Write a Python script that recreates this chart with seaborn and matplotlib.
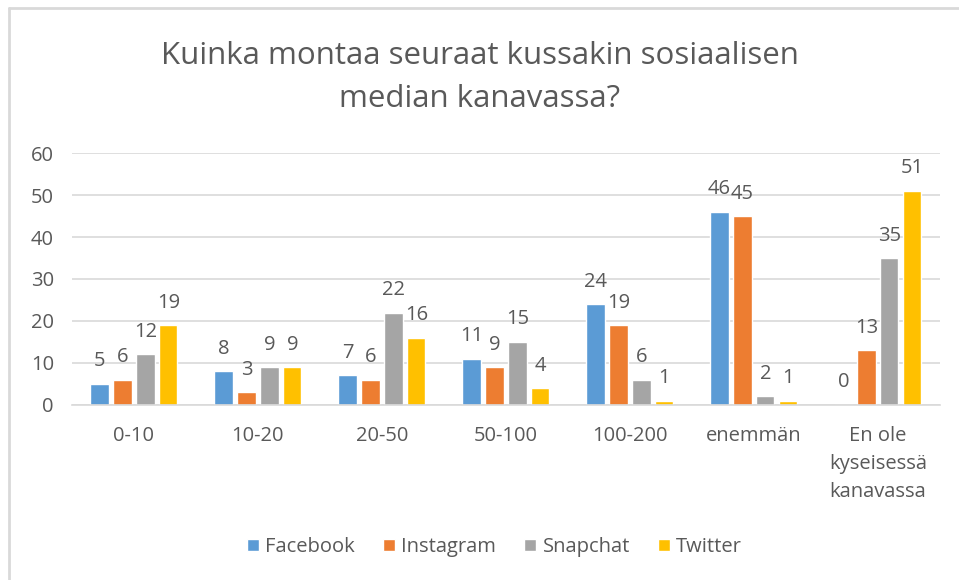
import matplotlib
matplotlib.use("Agg")
import matplotlib.pyplot as plt
import pandas as pd
import seaborn as sns
from matplotlib.lines import Line2D

# Input data
categories = ["0-10", "10-20", "20-50", "50-100", "100-200", "enemmän",
              "En ole\nkyseisessä\nkanavassa"]
series = ["Facebook", "Instagram", "Snapchat", "Twitter"]
facebook = [5, 8, 7, 11, 24, 46, 0]
instagram = [6, 3, 6, 9, 19, 45, 13]
snapchat = [12, 9, 22, 15, 6, 2, 35]
twitter = [19, 9, 16, 4, 1, 1, 51]
colors = ["#5B9BD5", "#ED7D31", "#A5A5A5", "#FFC000"]

rows = []
for name, vals in zip(series, [facebook, instagram, snapchat, twitter]):
    for cat, v in zip(categories, vals):
        rows.append({"category": cat, "series": name, "value": v})
df = pd.DataFrame(rows)

sns.set_style("white")
plt.rcParams["font.family"] = ["Open Sans", "DejaVu Sans"]
text_color = "#595959"

fig = plt.figure(figsize=(9.59, 5.8), dpi=100)
ax = fig.add_axes([0.075, 0.302, 0.905, 0.434])

sns.barplot(data=df, x="category", y="value", hue="series", order=categories,
            hue_order=series, palette=colors, width=0.74, gap=0.2,
            saturation=1, ax=ax, legend=True)

for cont in ax.containers:
    ax.bar_label(cont, padding=9, fontsize=14.5, color=text_color)

ax.set_ylim(0, 60)
ax.set_yticks(range(0, 61, 10))
ax.set_xlim(-0.5, len(categories) - 0.5)
ax.yaxis.grid(True, color="#D9D9D9", linewidth=1.2)
ax.set_axisbelow(True)
for s in ["top", "right", "left"]:
    ax.spines[s].set_visible(False)
ax.spines["bottom"].set_color("#D9D9D9")
ax.spines["bottom"].set_linewidth(1.2)
ax.tick_params(axis="both", length=0, labelsize=14.5, colors=text_color)
ax.tick_params(axis="x", pad=15)
ax.tick_params(axis="y", pad=13)
for lbl in ax.get_xticklabels():
    lbl.set_linespacing(1.55)
ax.set_xlabel("")
ax.set_ylabel("")

ax.legend(loc="center", bbox_to_anchor=(0.487, -0.565), ncol=4, frameon=False,
          fontsize=14.5, labelcolor=text_color, handlelength=0.6, handleheight=0.6,
          handletextpad=0.3, columnspacing=1.4)

fig.text(0.5, 0.866, "Kuinka montaa seuraat kussakin sosiaalisen\nmedian kanavassa?",
         ha="center", va="center", fontsize=22.5, color=text_color, linespacing=1.55)

# chart frame (top and left edges visible)
fig.add_artist(Line2D([0.009, 1.0], [0.986, 0.986], color="#D9D9D9", linewidth=2,
                      transform=fig.transFigure))
fig.add_artist(Line2D([0.009, 0.009], [0.0, 0.986], color="#D9D9D9", linewidth=2,
                      transform=fig.transFigure))

fig.savefig("out.png", dpi=100, facecolor="white")
